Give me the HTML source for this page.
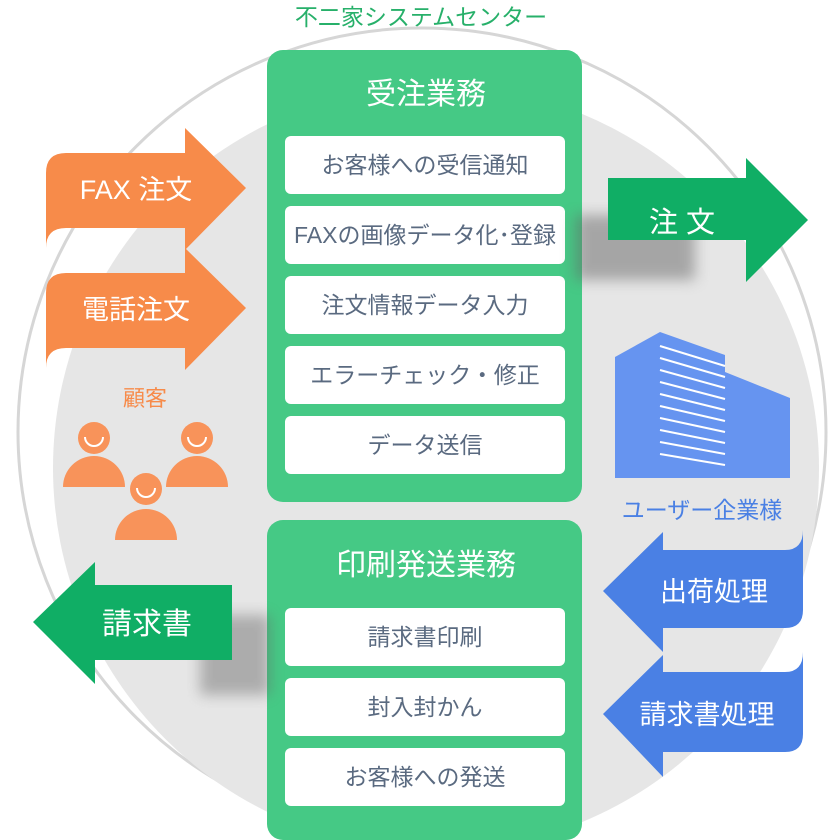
<!DOCTYPE html>
<html><head><meta charset="utf-8"><style>
body{margin:0;background:#fff}
svg{display:block}
text{font-family:"Liberation Sans","Noto Sans CJK JP",sans-serif}
</style></head><body>
<svg width="840" height="840" viewBox="0 0 840 840" xmlns="http://www.w3.org/2000/svg">
<defs>
<filter id="sh" x="-20%" y="-20%" width="160%" height="180%"><feGaussianBlur stdDeviation="7"/></filter>
</defs>
<circle cx="422" cy="432" r="404" fill="none" stroke="#d6d6d6" stroke-width="3"/>
<circle cx="436" cy="468" r="383" fill="#e6e6e6"/>
<text x="421" y="25" font-size="23" fill="#27b06a" text-anchor="middle">不二家システムセンター</text>

<!-- top panel -->
<rect x="267" y="50" width="315" height="452" rx="16" fill="#45c985"/>
<text x="426" y="104" font-size="30" fill="#fff" text-anchor="middle">受注業務</text>
<g font-size="23" fill="#5a6a80" text-anchor="middle">
<rect x="285" y="136" width="280" height="58" rx="6" fill="#fff"/><text x="425" y="173">お客様への受信通知</text>
<rect x="285" y="206" width="280" height="58" rx="6" fill="#fff"/><text x="425" y="243">FAXの画像データ化･登録</text>
<rect x="285" y="276" width="280" height="58" rx="6" fill="#fff"/><text x="425" y="313">注文情報データ入力</text>
<rect x="285" y="346" width="280" height="58" rx="6" fill="#fff"/><text x="425" y="383">エラーチェック・修正</text>
<rect x="285" y="416" width="280" height="58" rx="6" fill="#fff"/><text x="425" y="453">データ送信</text>
</g>
<!-- bottom panel -->
<rect x="267" y="520" width="315" height="320" rx="16" fill="#45c985"/>
<text x="426" y="575" font-size="30" fill="#fff" text-anchor="middle">印刷発送業務</text>
<g font-size="23" fill="#5a6a80" text-anchor="middle">
<rect x="285" y="608" width="280" height="58" rx="6" fill="#fff"/><text x="425" y="645">請求書印刷</text>
<rect x="285" y="678" width="280" height="58" rx="6" fill="#fff"/><text x="425" y="715">封入封かん</text>
<rect x="285" y="748" width="280" height="58" rx="6" fill="#fff"/><text x="425" y="785">お客様への発送</text>
</g>

<!-- orange arrows -->
<path d="M46 173 Q46 153 66 153 L185 153 L185 128 L246 188 L185 250 L185 228 L66 228 Q46 228 46 248 Z" fill="#f78b4a"/>
<text x="136" y="199" font-size="27" fill="#fff" text-anchor="middle">FAX 注文</text>
<path d="M46 293 Q46 273 66 273 L185 273 L185 248 L246 308 L185 370 L185 348 L66 348 Q46 348 46 368 Z" fill="#f78b4a"/>
<text x="136" y="319" font-size="27" fill="#fff" text-anchor="middle">電話注文</text>
<text x="145" y="406" font-size="22" fill="#f78b4a" text-anchor="middle">顧客</text>
<!-- people -->
<g fill="#f8935a">
<circle cx="94" cy="438" r="16"/><path d="M63 487 A31 31 0 0 1 125 487 Z"/>
<circle cx="197" cy="438" r="16"/><path d="M166 487 A31 31 0 0 1 228 487 Z"/>
<circle cx="146" cy="489" r="16"/><path d="M115 540 A31 31 0 0 1 177 540 Z"/>
</g>
<g fill="none" stroke="#fff" stroke-width="2">
<path d="M85 437 A9 9 0 0 0 103 437"/><path d="M188 437 A9 9 0 0 0 206 437"/><path d="M137 488 A9 9 0 0 0 155 488"/>
</g>

<!-- green 注文 arrow -->
<rect x="575" y="215" width="120" height="65" fill="#666" opacity="0.5" filter="url(#sh)"/>
<path d="M608 178 L746 178 L746 158 L808 220 L746 282 L746 240 L608 240 Z" fill="#10ae65"/>
<text x="682" y="232" font-size="29" fill="#fff" text-anchor="middle">注 文</text>

<!-- building -->
<path d="M615 357 L660 332 L660 478 L615 478 Z" fill="#6694f0"/>
<path d="M660 332 L725 355 L725 478 L660 478 Z" fill="#6694f0"/>
<path d="M725 372 L790 398 L790 478 L725 478 Z" fill="#6694f0"/>
<g stroke="#fff" stroke-width="2">
<line x1="660" y1="346" x2="725" y2="366"/><line x1="660" y1="358" x2="725" y2="377"/><line x1="660" y1="370" x2="725" y2="388"/><line x1="660" y1="382" x2="725" y2="399"/><line x1="660" y1="394" x2="725" y2="410"/><line x1="660" y1="406" x2="725" y2="421"/><line x1="660" y1="418" x2="725" y2="432"/><line x1="660" y1="430" x2="725" y2="443"/><line x1="660" y1="442" x2="725" y2="454"/><line x1="660" y1="454" x2="725" y2="465"/>
</g>
<text x="702" y="518" font-size="23" fill="#4a80e4" text-anchor="middle">ユーザー企業様</text>

<!-- blue arrows -->
<path d="M803 540 L803 610 Q803 628 785 628 L663 628 L663 652 L603 591 L663 532 L663 550 L785 550 Q803 550 803 530 Z" fill="#4a80e4"/>
<text x="714" y="601" font-size="27" fill="#fff" text-anchor="middle">出荷処理</text>
<path d="M803 662 L803 734 Q803 752 785 752 L663 752 L663 777 L603 714 L663 655 L663 672 L785 672 Q803 672 803 652 Z" fill="#4a80e4"/>
<text x="707" y="724" font-size="27" fill="#fff" text-anchor="middle">請求書処理</text>

<!-- 請求書 arrow -->
<rect x="200" y="615" width="70" height="80" fill="#666" opacity="0.45" filter="url(#sh)"/>
<path d="M232 585 L232 660 L95 660 L95 684 L33 622 L95 562 L95 585 Z" fill="#10ae65"/>
<text x="147" y="634" font-size="30" fill="#fff" text-anchor="middle">請求書</text>
</svg>
</body></html>
